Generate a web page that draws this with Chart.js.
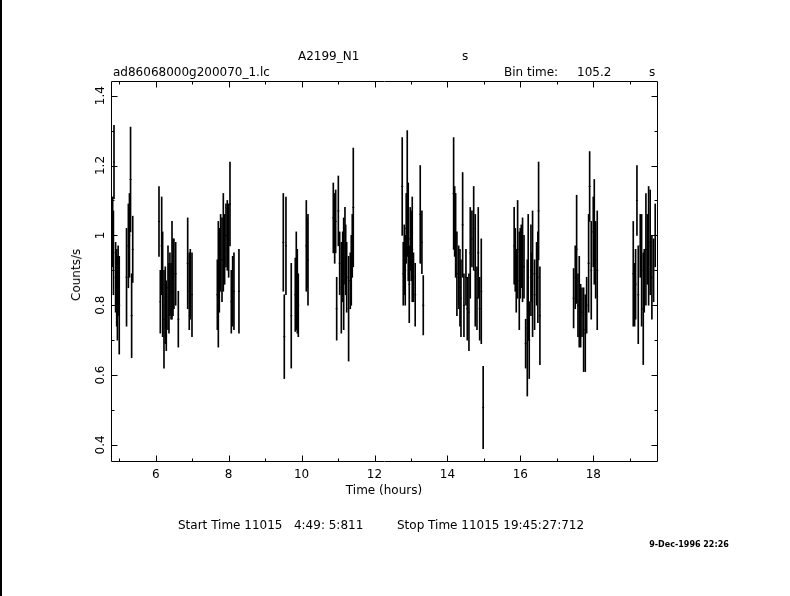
<!DOCTYPE html>
<html>
<head>
<meta charset="utf-8">
<script src="https://cdn.jsdelivr.net/npm/chart.js@4.4.1/dist/chart.umd.min.js"></script>
<style>
  body { margin: 0; background: #fff; }
  #wrap { position: relative; width: 790px; height: 596px; overflow: hidden; font-family: "DejaVu Sans", sans-serif; font-size: 12px; color: #000; }
  #lc { position: absolute; left: 0; top: 0; }
  #edge { position: absolute; left: 0; top: 0; width: 2px; height: 596px; background: #000; }
  .lbl { position: absolute; white-space: pre; line-height: 1; }
</style>
</head>
<body>
<div id="wrap">
  <canvas id="lc" width="790" height="596"></canvas>
  <div id="edge"></div>
  <div class="lbl" style="left:298px; top:50px">A2199_N1</div>
  <div class="lbl" style="left:462px; top:50px">s</div>
  <div class="lbl" style="left:113px; top:66px">ad86068000g200070_1.lc</div>
  <div class="lbl" style="left:504px; top:66px">Bin time:</div>
  <div class="lbl" style="left:577px; top:66px">105.2</div>
  <div class="lbl" style="left:649px; top:66px">s</div>
  <div class="lbl" style="left:384px; top:484px; transform:translateX(-50%)">Time (hours)</div>
  <div class="lbl" style="left:76px; top:275px; transform:translate(-50%,-50%) rotate(-90deg)">Counts/s</div>
  <div class="lbl" style="left:178px; top:519px">Start Time 11015   4:49: 5:811</div>
  <div class="lbl" style="left:397px; top:519px">Stop Time 11015 19:45:27:712</div>
  <div class="lbl" style="left:689px; top:541px; transform:translateX(-50%); font-size:8px; font-weight:bold">9-Dec-1996 22:26</div>
</div>
<script>
// light curve bins: time (hours), rate (counts/s), 1-sigma error
const times = [
  4.82, 4.84, 4.856, 4.90, 4.93, 4.95, 4.97, 5.00,            // orbit 1
  5.20, 5.25, 5.28, 5.31, 5.34, 5.37,
  6.09, 6.126, 6.164, 6.19, 6.227, 6.263, 6.29, 6.337,       // orbit 2
  6.364, 6.39, 6.42, 6.447, 6.474, 6.50, 6.548, 6.62,
  6.877, 6.92, 6.948, 6.995,
  7.69, 7.717, 7.744, 7.78, 7.818, 7.854, 7.89, 7.927,       // orbit 3
  7.963, 8.0, 8.037, 8.073, 8.11, 8.146, 8.283,
  9.499, 9.526, 9.572, 9.717, 9.827, 9.855, 9.883, 9.91,     // orbit 4
  10.13, 10.148, 10.176,
  10.87, 10.908, 10.935, 10.963, 11.008, 11.045, 11.09,      // orbit 5
  11.128, 11.155, 11.19, 11.21, 11.237, 11.29, 11.336,
  11.363, 11.39, 11.418,
  12.76, 12.788, 12.816, 12.843, 12.87, 12.898, 12.925,      // orbit 6
  12.953, 12.98, 13.007, 13.035, 13.07, 13.116, 13.254,
  13.30, 13.337,
  14.17, 14.198, 14.225, 14.26, 14.308, 14.344, 14.371,      // orbit 7
  14.417, 14.453, 14.508, 14.544, 14.59, 14.626, 14.672,
  14.72, 14.763, 14.81, 14.845, 14.884, 14.928, 14.98,
  15.83, 15.86, 15.887, 15.925, 15.97, 15.997, 16.025,       // orbit 8
  16.06, 16.10, 16.145, 16.19, 16.215, 16.243, 16.29,
  16.305, 16.335, 16.39, 16.445, 16.48, 16.50, 16.536,
  17.46, 17.505, 17.543, 17.58, 17.615, 17.653, 17.69,       // orbit 9
  17.735, 17.78, 17.818, 17.872, 17.90, 17.944, 17.999,
  18.027, 18.065, 18.108,
  19.096, 19.133, 19.16, 19.197, 19.233, 19.288, 19.325,     // orbit 10
  19.37, 19.397, 19.443, 19.48, 19.517, 19.56, 19.607,
  19.654, 19.698
];
const rates = [
  1.01, 0.95, 1.21, 0.88, 0.85, 0.82, 0.87, 0.80,
  0.88, 0.97, 1.00, 1.16, 0.77, 0.96,
  1.04, 0.81, 0.97, 0.86, 0.76, 0.80, 0.77, 0.85,
  0.82, 0.86, 0.84, 0.90, 0.88, 0.89, 0.89, 0.76,
  0.92, 0.84, 0.86, 0.83,
  0.83, 0.86, 0.90, 0.95, 0.93, 0.98, 0.96, 1.00,
  1.00, 0.985, 1.09, 0.81, 0.84, 0.84, 0.84,
  0.98, 0.71, 0.97, 0.77, 0.83, 0.87, 0.84, 0.80,
  0.97, 0.95, 0.93,
  1.05, 1.02, 1.04, 0.79, 1.07, 0.92, 0.85,
  0.91, 0.89, 0.97, 0.93, 0.88, 0.79, 0.87,
  0.90, 0.97, 1.08,
  1.14, 0.89, 0.93, 0.90, 1.02, 1.12, 1.01,
  0.86, 0.99, 0.97, 0.96, 0.88, 0.83, 1.06,
  0.98, 0.80,
  1.12, 1.04, 1.00, 0.89, 0.88, 0.85, 0.82,
  1.03, 0.80, 0.88, 0.79, 0.78, 0.95, 0.99,
  1.02, 0.90, 0.82, 0.95, 0.79, 0.84, 0.507,
  0.97, 0.93, 0.87, 0.96, 0.87, 0.92, 0.94,
  0.93, 0.91, 0.69, 0.735, 0.88, 0.70, 0.90,
  0.88, 0.89, 0.83, 0.89, 0.88, 1.07, 0.77,
  0.82, 0.88, 0.96, 0.80, 0.81, 0.77, 0.78,
  0.73, 0.72, 0.80, 0.92, 1.14, 0.90, 1.01,
  1.01, 0.93, 0.90,
  0.89, 0.83, 0.86, 1.10, 0.83, 0.97, 0.90,
  0.79, 0.87, 0.96, 0.96, 0.97, 0.98, 0.88,
  0.90, 1.00
];
const errors = [
  0.10, 0.12, 0.105, 0.10, 0.11, 0.12, 0.10, 0.14,
  0.14, 0.12, 0.12, 0.15, 0.12, 0.095,
  0.10, 0.09, 0.14, 0.15, 0.14, 0.11, 0.10, 0.12,
  0.10, 0.09, 0.08, 0.14, 0.11, 0.10, 0.09, 0.08,
  0.13, 0.11, 0.10, 0.12,
  0.10, 0.18, 0.12, 0.11, 0.12, 0.14, 0.10, 0.09,
  0.10, 0.105, 0.12, 0.09, 0.10, 0.11, 0.12,
  0.14, 0.12, 0.14, 0.15, 0.105, 0.14, 0.12, 0.09,
  0.13, 0.10, 0.13,
  0.10, 0.10, 0.09, 0.09, 0.10, 0.09, 0.13,
  0.10, 0.16, 0.11, 0.10, 0.10, 0.15, 0.08,
  0.10, 0.09, 0.17,
  0.14, 0.09, 0.10, 0.10, 0.10, 0.18, 0.14,
  0.11, 0.09, 0.10, 0.15, 0.07, 0.09, 0.14,
  0.09, 0.085,
  0.16, 0.10, 0.12, 0.12, 0.09, 0.11, 0.11,
  0.15, 0.09, 0.08, 0.09, 0.11, 0.13, 0.08,
  0.12, 0.16, 0.09, 0.13, 0.09, 0.15, 0.118,
  0.11, 0.09, 0.09, 0.14, 0.14, 0.10, 0.09,
  0.12, 0.09, 0.07, 0.195, 0.18, 0.11, 0.13,
  0.07, 0.18, 0.10, 0.09, 0.13, 0.14, 0.14,
  0.085, 0.09, 0.155, 0.09, 0.13, 0.09, 0.07,
  0.12, 0.11, 0.08, 0.14, 0.10, 0.14, 0.10,
  0.15, 0.11, 0.17,
  0.15, 0.09, 0.10, 0.10, 0.14, 0.09, 0.16,
  0.16, 0.09, 0.16, 0.10, 0.17, 0.15, 0.12,
  0.09, 0.09
];

const xRange = [4.774, 19.747];
const yRange = [0.354, 1.442];
const xTickValues = [5, 6, 7, 8, 9, 10, 11, 12, 13, 14, 15, 16, 17, 18, 19];
const xLabelValues = [6, 8, 10, 12, 14, 16, 18];
const yTickValues = [0.4, 0.5, 0.6, 0.7, 0.8, 0.9, 1.0, 1.1, 1.2, 1.3, 1.4];
const yLabelValues = [0.4, 0.6, 0.8, 1, 1.2, 1.4];

// frame with inward ticks on all four sides, pgplot style
const framePlugin = {
  id: "frame",
  afterDatasetsDraw(chart) {
    const { ctx, chartArea: a, scales } = chart;
    const xs = scales.x, ys = scales.y;
    const L = a.left + 0.5, R = a.right + 0.5, T = a.top + 0.5, B = a.bottom + 0.5;
    ctx.save();
    ctx.strokeStyle = "#000";
    ctx.lineWidth = 1;
    ctx.beginPath();
    ctx.rect(L, T, R - L, B - T);

    xTickValues.forEach((v) => {
      const px = Math.round(xs.getPixelForValue(v)) + 0.5;
      const len = xLabelValues.includes(v) ? 6 : 3;
      ctx.moveTo(px, B); ctx.lineTo(px, B - len);
      ctx.moveTo(px, T); ctx.lineTo(px, T + len);
    });
    yTickValues.forEach((v) => {
      const py = Math.round(ys.getPixelForValue(v)) + 0.5;
      const major = yLabelValues.some((l) => Math.abs(l - v) < 1e-6);
      const len = major ? 6 : 3;
      ctx.moveTo(L, py); ctx.lineTo(L + len, py);
      ctx.moveTo(R, py); ctx.lineTo(R - len, py);
    });
    ctx.stroke();

    ctx.fillStyle = "#000";
    ctx.font = '12px "DejaVu Sans", sans-serif';
    ctx.textAlign = "center";
    ctx.textBaseline = "alphabetic";
    xLabelValues.forEach((v) => {
      ctx.fillText(String(v), xs.getPixelForValue(v), 477.5);
    });
    yLabelValues.forEach((v) => {
      ctx.save();
      ctx.translate(99.5 + 4.4, ys.getPixelForValue(v));
      ctx.rotate(-Math.PI / 2);
      ctx.fillText(String(v), 0, 0);
      ctx.restore();
    });
    ctx.restore();
  }
};

document.addEventListener("DOMContentLoaded", () => {
  const ctx = document.getElementById("lc").getContext("2d");

  const errBars = times.map((t, i) => ({ x: t, y: [rates[i] - errors[i], rates[i] + errors[i]] }));
  const centres = times.map((t, i) => ({ x: t, y: rates[i] }));

  new Chart(ctx, {
    type: "bar",
    data: {
      datasets: [
        {
          type: "bar",
          data: errBars,
          backgroundColor: "#000",
          borderWidth: 0,
          barThickness: 1,
        },
        {
          type: "scatter",
          data: centres,
          pointStyle: "line",
          radius: 1,
          borderColor: "#000",
          borderWidth: 1,
        },
      ],
    },
    options: {
      responsive: false,
      animation: false,
      events: [],
      layout: { padding: { left: 111, right: 133, top: 81, bottom: 135 } },
      plugins: { legend: { display: false }, tooltip: { enabled: false } },
      scales: {
        x: { type: "linear", min: xRange[0], max: xRange[1], offset: false, display: false },
        y: { type: "linear", min: yRange[0], max: yRange[1], display: false },
      },
    },
    plugins: [framePlugin],
  });
});
</script>
</body>
</html>
